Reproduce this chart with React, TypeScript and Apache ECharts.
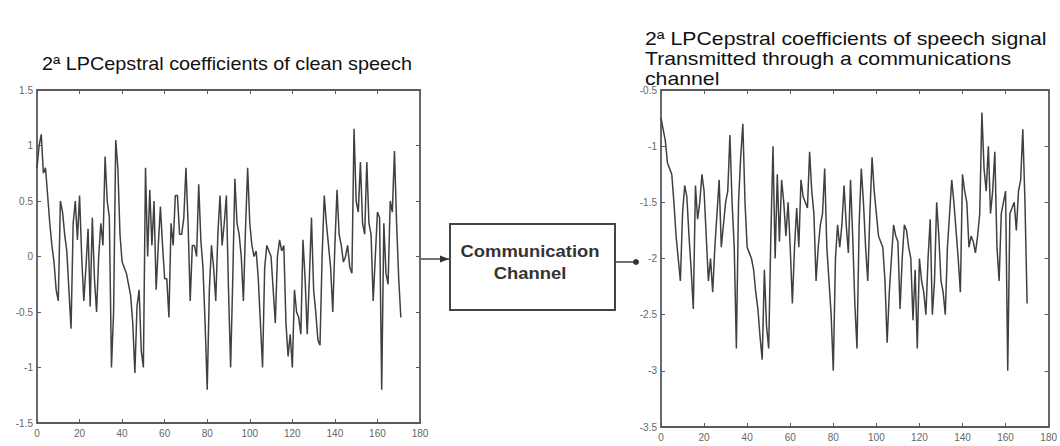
import React, { useEffect, useRef } from "react";
import * as echarts from "echarts";

// 2nd LP-cepstral coefficient, clean speech (frame index 0..171)
const CLEAN_VALUES = [
  0.8, 1.0, 1.1, 0.75, 0.8, 0.55, 0.3, 0.1, -0.05, -0.3,
  -0.4, 0.5, 0.4, 0.2, 0.05, -0.3, -0.65, 0.3, 0.5, 0.15,
  0.55, 0.0, -0.4, -0.1, 0.25, -0.45, 0.35, -0.2, -0.5, 0.0,
  0.3, 0.1, 0.9, 0.5, 0.35, -1.0, -0.5, 1.05, 0.8, 0.2,
  -0.05, -0.1, -0.15, -0.25, -0.35, -0.6, -1.05, -0.45, -0.3, -0.85,
  -1.0, 0.8, 0.0, 0.6, 0.1, 0.5, -0.3, 0.1, 0.45, 0.1,
  -0.2, -0.2, -0.55, 0.3, 0.1, 0.55, 0.55, 0.2, 0.2, 0.35,
  0.8, 0.3, -0.4, 0.1, 0.1, 0.0, 0.65, 0.15, -0.1, -0.6,
  -1.2, -0.3, 0.1, -0.1, -0.4, 0.2, 0.55, 0.1, 0.3, 0.55,
  -0.3, -1.0, -0.2, 0.7, 0.3, 0.2, 0.0, -0.4, 0.25, 0.8,
  0.3, 0.1, 0.0, 0.05, -0.2, -0.6, -1.0, -0.1, 0.1, 0.05,
  0.0, -0.3, -0.6, 0.0, 0.15, 0.05, 0.1, -0.6, -0.9, -0.7,
  -1.0, -0.3, -0.5, -0.55, -0.7, 0.15, -0.2, -0.7, -0.2, 0.35,
  -0.3, -0.5, -0.75, -0.8, 0.0, 0.55, 0.3, 0.1, -0.1, -0.5,
  0.1, 0.6, 0.2, 0.1, -0.05, 0.0, 0.1, -0.1, -0.15, 1.15,
  0.5, 0.4, 0.85, 0.3, 0.2, 0.85, 0.3, 0.2, -0.4, 0.0,
  0.4, 0.35, -1.2, 0.3, -0.15, -0.25, 0.5, 0.4, 0.95, 0.3,
  -0.2, -0.55,
];

// 2nd LP-cepstral coefficient after the communications channel
const CHANNEL_VALUES = [
  -0.75, -0.85, -0.95, -1.15, -1.2, -1.25, -1.5, -1.8, -2.0, -2.2,
  -1.6, -1.35, -1.45, -1.8, -2.1, -2.45, -1.35, -1.65, -1.5, -1.25,
  -1.4, -1.8, -2.2, -2.0, -2.3, -1.9, -1.6, -1.3, -1.9, -1.7,
  -1.5, -1.4, -0.9, -1.5, -1.9, -2.8, -1.5, -1.1, -0.8, -1.5,
  -1.9, -1.95, -2.0, -2.1, -2.3, -2.45, -2.7, -2.9, -2.1, -2.6,
  -2.8, -1.8, -1.0, -2.0, -1.25, -1.85, -1.3, -1.5, -1.8, -1.5,
  -1.9, -2.4, -1.9, -1.55, -1.9, -1.3, -1.45, -1.5, -1.55, -1.05,
  -1.4, -1.6, -2.2, -1.9, -1.7, -1.6, -1.2, -1.9, -2.2, -2.5,
  -3.0, -2.0, -1.7, -1.9, -1.7, -1.35, -1.7, -1.95, -1.3, -1.8,
  -2.4, -2.8, -1.7, -1.2, -1.5, -1.9, -2.2, -1.6, -1.1, -1.4,
  -1.6, -1.8, -1.85, -1.9, -2.2, -2.75, -2.3, -2.0, -1.7, -1.8,
  -1.85, -2.45, -2.0, -1.7, -1.75, -1.9, -2.0, -2.55, -2.1, -2.8,
  -2.0, -2.2, -2.3, -2.5, -2.0, -1.65, -2.5, -2.2, -1.5, -1.8,
  -2.2, -2.3, -2.5, -1.9, -1.6, -1.3, -1.5, -1.75, -2.0, -2.3,
  -1.25, -1.4, -1.5, -1.9, -1.8, -1.85, -1.95, -1.8, -1.6, -0.7,
  -1.2, -1.4, -1.0, -1.6, -1.4, -1.05, -1.9, -2.2, -1.6, -1.5,
  -1.4, -3.0, -1.6, -1.55, -1.5, -1.75, -1.4, -1.3, -0.85, -1.5,
  -2.4,
];

const LEFT_TITLE = "2ª LPCepstral coefficients of clean speech";
const RIGHT_TITLE_LINES = [
  "2ª LPCepstral coefficients of speech signal",
  "Transmitted through a communications",
  "channel",
];
const BOX_LINES = ["Communication", "Channel"];

const X_RANGE = [0, 180];
const LEFT_Y_RANGE = [-1.5, 1.5];
const RIGHT_Y_RANGE = [-3.5, -0.5];

const FRAME = "#5a5a5a";
const TICK_TEXT = "#666";
const LINE = "#404040";
const FONT = "'Liberation Sans', Arial, sans-serif";

function toPairs(values: number[]) {
  return values.map((v, i) => [i, v]);
}

function xAxes(gridIndex: number) {
  const base = {
    gridIndex,
    type: "value" as const,
    min: X_RANGE[0],
    max: X_RANGE[1],
    interval: 20,
    splitLine: { show: false },
    axisLine: { show: true, onZero: false, lineStyle: { color: FRAME, width: 1.8 } },
    axisTick: { show: true, inside: true, length: 4, lineStyle: { color: FRAME, width: 1 } },
  };
  return [
    {
      ...base,
      position: "bottom" as const,
      axisLabel: { show: true, fontSize: 10, color: TICK_TEXT, fontFamily: FONT, margin: 5 },
    },
    { ...base, position: "top" as const, axisLabel: { show: false } },
  ];
}

function yAxes(gridIndex: number, range: number[]) {
  const base = {
    gridIndex,
    type: "value" as const,
    min: range[0],
    max: range[1],
    interval: 0.5,
    splitLine: { show: false },
    axisLine: { show: true, onZero: false, lineStyle: { color: FRAME, width: 1.8 } },
    axisTick: { show: true, inside: true, length: 4, lineStyle: { color: FRAME, width: 1 } },
  };
  return [
    {
      ...base,
      position: "left" as const,
      axisLabel: { show: true, fontSize: 10, color: TICK_TEXT, fontFamily: FONT, margin: 4 },
    },
    { ...base, position: "right" as const, axisLabel: { show: false } },
  ];
}

export default function App() {
  const ref = useRef<HTMLDivElement>(null);

  useEffect(() => {
    if (!ref.current) return;
    const chart = echarts.init(ref.current, undefined, { renderer: "svg" });

    const titleStyle = { fontSize: 18, fontFamily: FONT, fill: "#111" };

    chart.setOption({
      animation: false,
      backgroundColor: "#fff",
      grid: [
        { left: 37, top: 90, width: 383, height: 333 },
        { left: 661, top: 90, width: 391, height: 337 },
      ],
      xAxis: [...xAxes(0), ...xAxes(1)],
      yAxis: [...yAxes(0, LEFT_Y_RANGE), ...yAxes(1, RIGHT_Y_RANGE)],
      series: [
        {
          type: "line",
          xAxisIndex: 0,
          yAxisIndex: 0,
          data: toPairs(CLEAN_VALUES),
          showSymbol: false,
          symbol: "none",
          lineStyle: { color: LINE, width: 1.5 },
        },
        {
          type: "line",
          xAxisIndex: 2,
          yAxisIndex: 2,
          data: toPairs(CHANNEL_VALUES),
          showSymbol: false,
          symbol: "none",
          lineStyle: { color: LINE, width: 1.5 },
        },
      ],
      graphic: [
        {
          type: "text",
          x: 42,
          y: 64,
          scaleX: 1.1,
          style: { ...titleStyle, text: LEFT_TITLE, verticalAlign: "middle" },
        },
        ...RIGHT_TITLE_LINES.map((t, k) => ({
          type: "text",
          x: 645,
          y: 39 + k * 20,
          scaleX: 1.18,
          style: { ...titleStyle, text: t, verticalAlign: "middle" },
        })),
        {
          type: "rect",
          shape: { x: 450, y: 224, width: 165, height: 86 },
          style: { fill: "#fff", stroke: "#444", lineWidth: 2 },
        },
        ...BOX_LINES.map((t, k) => ({
          type: "text",
          x: 530,
          y: 251 + k * 22,
          scaleX: 1.15,
          style: {
            text: t,
            fontSize: 16,
            fontWeight: "bold",
            fontFamily: FONT,
            fill: "#333",
            align: "center",
            verticalAlign: "middle",
          },
        })),
        {
          type: "line",
          shape: { x1: 421, y1: 259, x2: 450, y2: 259 },
          style: { stroke: "#444", lineWidth: 1.5 },
        },
        {
          type: "polygon",
          shape: { points: [[449, 259], [440, 255.5], [440, 262.5]] },
          style: { fill: "#333" },
        },
        {
          type: "line",
          shape: { x1: 615, y1: 262, x2: 636, y2: 262 },
          style: { stroke: "#444", lineWidth: 1.5 },
        },
        {
          type: "circle",
          shape: { cx: 636, cy: 262, r: 3 },
          style: { fill: "#333" },
        },
      ],
    });

    return () => chart.dispose();
  }, []);

  return (
    <div
      ref={ref}
      style={{ position: "fixed", left: 0, top: 0, width: 1060, height: 446, background: "#fff" }}
    />
  );
}
